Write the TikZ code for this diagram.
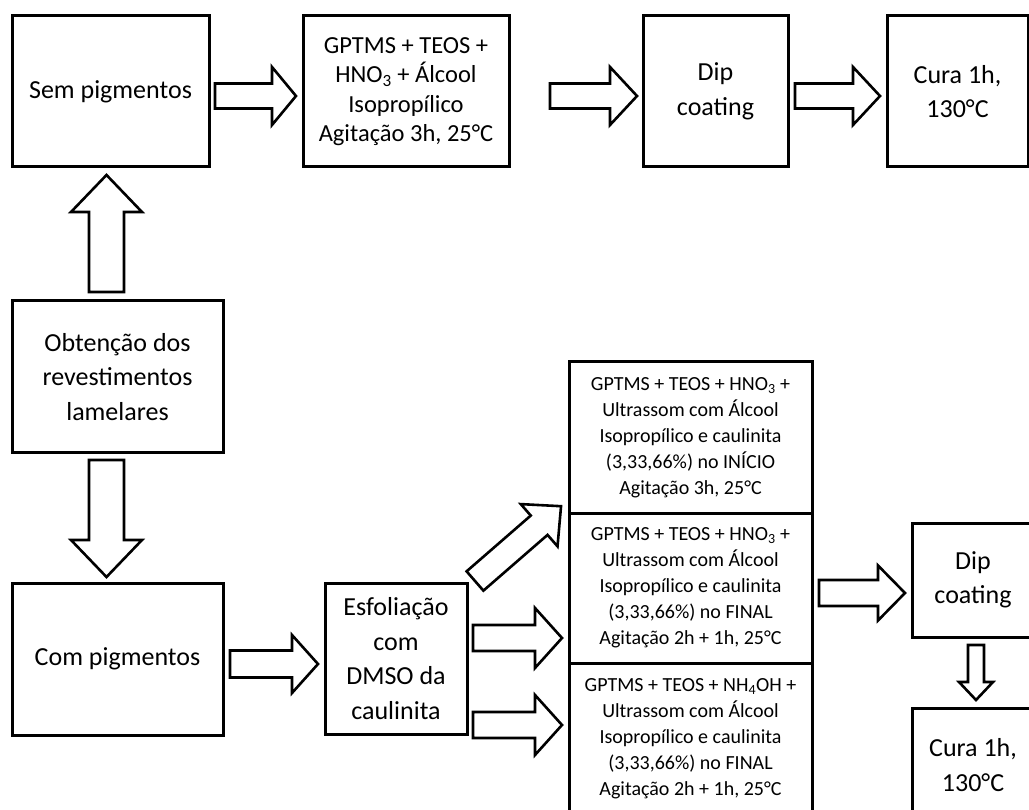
\documentclass[tikz,border=0pt]{standalone}
\usepackage{fontspec}
\setmainfont{Carlito}
\usetikzlibrary{calc}
\tikzset{
  box/.style={draw=black, line width=3pt, inner sep=0pt, align=center, text=black,
    font=\fontsize{26}{34.5}\selectfont},
  midtext/.style={font=\fontsize{24.5}{29.5}\selectfont},
  stacktext/.style={font=\fontsize{20}{26}\selectfont},
  arrline/.style={draw=black, line width=2.6pt, fill=white, line join=miter},
  pics/barrow/.style n args={4}{code={
    \draw[arrline] (0,-#2) -- ({#1-#4},-#2) -- ({#1-#4},-#3) -- (#1,0)
      -- ({#1-#4},#3) -- ({#1-#4},#2) -- (0,#2) -- cycle;}}
}
\begin{document}
\begin{tikzpicture}[x=1pt,y=-1pt]
\useasboundingbox (0,0) rectangle (1029,810);
\clip (0,0) rectangle (1029,810);
\fill[white] (0,0) rectangle (1029,810);

% top row
\node[box, minimum width=197pt, minimum height=151pt] (sem) at (110.5,91.5) {Sem pigmentos};
\node[box, midtext, minimum width=206pt, minimum height=151pt] (gp) at (406,91.5)
  {GPTMS + TEOS +\\HNO\textsubscript{3} + Álcool\\Isopropílico\\Agitação 3h, 25°C};
\node[box, minimum width=145pt, minimum height=151pt] (dipa) at (715.5,91.5) {Dip\\coating};
\node[box, minimum width=141pt, minimum height=151pt] (curaa) at (957.5,91.5) {Cura 1h,\\130°C};

% left column
\node[box, minimum width=211pt, minimum height=152pt] (obt) at (117.5,377) {Obtenção dos\\revestimentos\\lamelares};
\node[box, minimum width=211pt, minimum height=152pt] (com) at (117.5,659) {Com pigmentos};
\node[box, minimum width=142pt, minimum height=151pt] (esf) at (396,658.5) {Esfoliação\\com\\DMSO da\\caulinita};

% stack
\node[box, stacktext, minimum width=243pt, minimum height=151pt] (s1) at (690.5,437.5)
  {GPTMS + TEOS + HNO\textsubscript{3} +\\Ultrassom com Álcool\\Isopropílico e caulinita\\(3,33,66\%) no INÍCIO\\Agitação 3h, 25°C};
\node[box, stacktext, minimum width=243pt, minimum height=150pt] (s2) at (690.5,588)
  {GPTMS + TEOS + HNO\textsubscript{3} +\\Ultrassom com Álcool\\Isopropílico e caulinita\\(3,33,66\%) no FINAL\\Agitação 2h + 1h, 25°C};
\node[box, stacktext, minimum width=243pt, minimum height=151pt] (s3) at (690.5,738.5)
  {GPTMS + TEOS + NH\textsubscript{4}OH +\\Ultrassom com Álcool\\Isopropílico e caulinita\\(3,33,66\%) no FINAL\\Agitação 2h + 1h, 25°C};

% right lower
\node[box, minimum width=122pt, minimum height=114pt] (dipb) at (973,580) {Dip\\coating};
\node[box, minimum width=122pt, minimum height=114pt] (curab) at (973,765) {Cura 1h,\\130°C};

% block arrows
\pic at (215,96) {barrow={81}{12.5}{29}{24}};
\pic at (550,96) {barrow={87}{12.5}{29}{27}};
\pic at (795,96) {barrow={85}{12.5}{29}{27}};
\pic[rotate=90] at (106.5,292) {barrow={117}{17.5}{35.5}{37}};
\pic[rotate=-90] at (106.5,460) {barrow={117}{17.5}{35.5}{37}};
\pic at (230,664) {barrow={88}{13.5}{29}{26}};
\pic at (473,638) {barrow={89}{13}{30}{27}};
\pic at (473,725) {barrow={89}{13}{30}{27}};
\pic[rotate=41] at (475,581) {barrow={114}{12.8}{28}{29}};
\pic at (819,593) {barrow={86}{13}{27.5}{27}};
\pic[rotate=-90] at (976,645) {barrow={55}{8}{17}{18}};
\end{tikzpicture}
\end{document}
